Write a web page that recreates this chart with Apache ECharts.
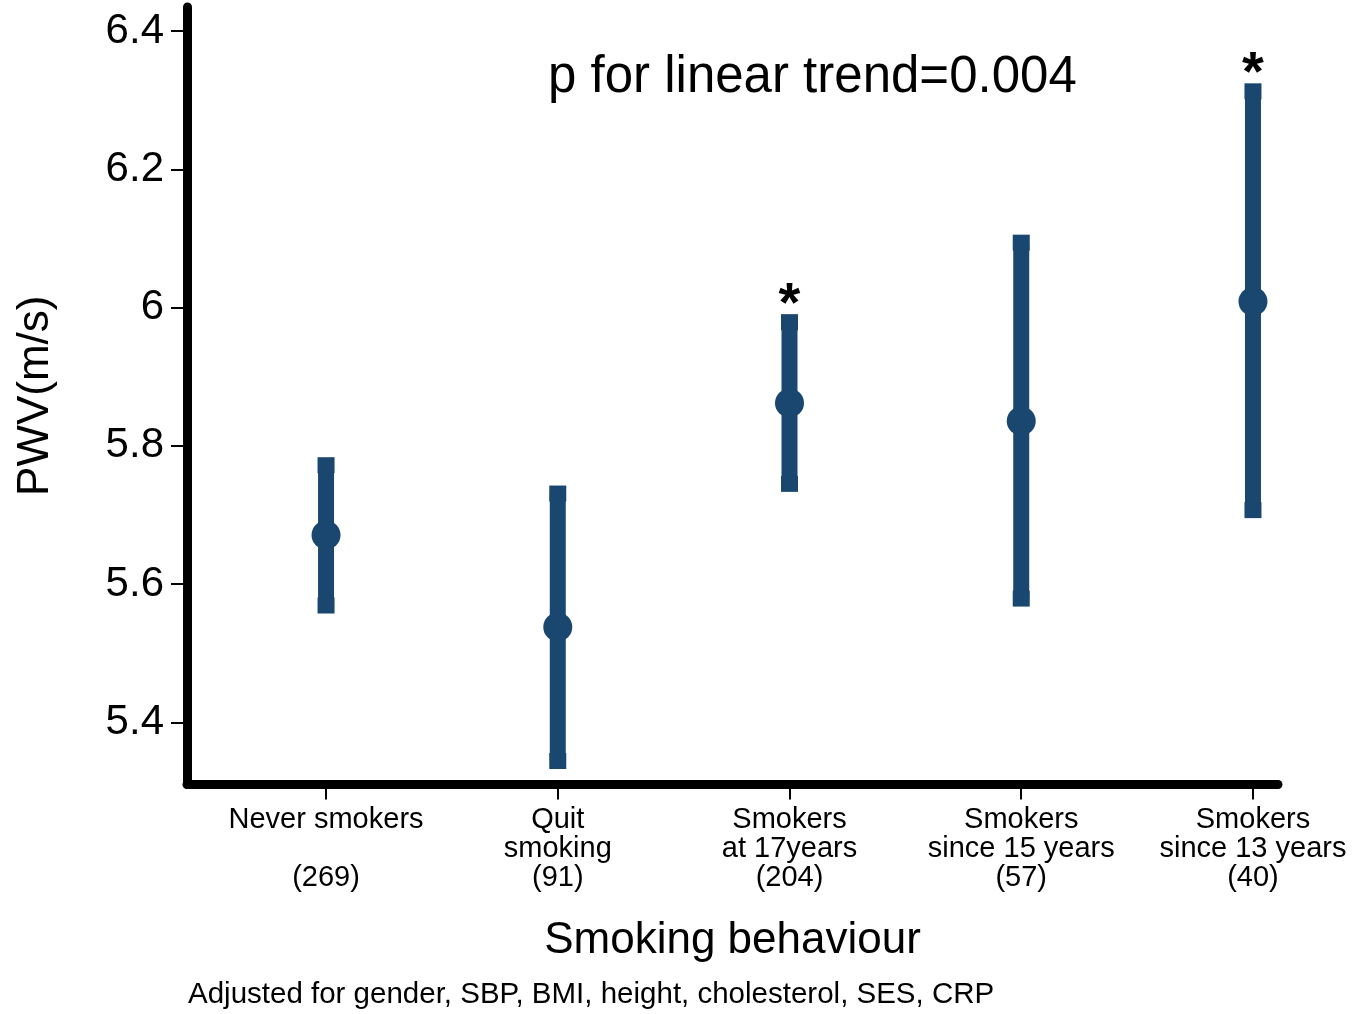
<!DOCTYPE html>
<html>
<head>
<meta charset="utf-8">
<script src="https://cdn.jsdelivr.net/npm/echarts@6/dist/echarts.min.js"></script>
<style>
  html, body { margin: 0; padding: 0; background: #fff; }
  #chart { width: 1356px; height: 1014px; }
</style>
</head>
<body>
<div id="chart"></div>
<script>
// ---- data ----
const categoryLabels = [
  'Never smokers\n\n(269)',
  'Quit\nsmoking\n(91)',
  'Smokers\nat 17years\n(204)',
  'Smokers\nsince 15 years\n(57)',
  'Smokers\nsince 13 years\n(40)'
];
const categoryPos = [1, 2, 3, 4, 5];
const meanPWV  = [5.671, 5.538, 5.862, 5.836, 6.009];
const lowerCI  = [5.569, 5.344, 5.745, 5.579, 5.707];
const upperCI  = [5.772, 5.731, 5.979, 6.094, 6.313];
const significant = [false, false, true, false, true];
const yTicks = [5.4, 5.6, 5.8, 6.0, 6.2, 6.4];

const FONT = "'Liberation Sans', Arial, Helvetica, sans-serif";
const NAVY = '#1a476f';

const chart = echarts.init(document.getElementById('chart'), null, { renderer: 'canvas' });

const barData = categoryPos.map((x, i) => [x, lowerCI[i], upperCI[i], significant[i] ? 1 : 0]);
const meanData = categoryPos.map((x, i) => [x, meanPWV[i]]);

const option = {
  backgroundColor: '#ffffff',
  animation: false,
  grid: { left: 187, top: 7, right: 78, bottom: 229.5, containLabel: false },
  xAxis: {
    type: 'value',
    min: 0.4,
    max: 5.108,
    name: 'Smoking behaviour',
    nameLocation: 'middle',
    nameGap: 134,
    nameTextStyle: { fontFamily: FONT, fontSize: 44, color: '#000' },
    axisLine: { show: true, onZero: false, lineStyle: { color: '#000', width: 9 } },
    axisTick: { show: true, length: 15, lineStyle: { color: '#000', width: 2 }, customValues: categoryPos },
    axisLabel: {
      customValues: categoryPos,
      margin: 21,
      fontFamily: FONT, fontSize: 29, lineHeight: 29, color: '#000', align: 'center',
      formatter: function (v) { return categoryLabels[Math.round(v) - 1] || ''; }
    },
    splitLine: { show: false }
  },
  yAxis: {
    type: 'value',
    min: 5.31,
    max: 6.435,
    name: 'PWV(m/s)',
    nameLocation: 'middle',
    nameRotate: 90,
    nameGap: 129,
    nameTextStyle: { fontFamily: FONT, fontSize: 44, color: '#000' },
    axisLine: { show: true, onZero: false, lineStyle: { color: '#000', width: 9 } },
    axisTick: { show: true, length: 16, lineStyle: { color: '#000', width: 2 }, customValues: yTicks },
    axisLabel: {
      customValues: yTicks,
      margin: 23,
      fontFamily: FONT, fontSize: 42, color: '#000',
      formatter: function (v) { return String(Math.round(v * 10) / 10); }
    },
    splitLine: { show: false }
  },
  graphic: [
    {
      type: 'text', left: 548, top: 77 - 25,
      style: { text: 'p for linear trend=0.004', fontFamily: FONT, fontSize: 51, fill: '#000' }
    },
    {
      type: 'text', left: 188, top: 994 - 14,
      style: { text: 'Adjusted for gender, SBP, BMI, height, cholesterol, SES, CRP', fontFamily: FONT, fontSize: 29.5, fill: '#000' }
    }
  ],
  series: [
    {
      type: 'custom',
      data: barData,
      encode: { x: 0, y: [1, 2] },
      z: 2,
      renderItem: function (params, api) {
        const x = api.value(0);
        const pLo = api.coord([x, api.value(1)]);
        const pHi = api.coord([x, api.value(2)]);
        const children = [
          { type: 'rect', shape: { x: pLo[0] - 8, y: pHi[1], width: 16, height: pLo[1] - pHi[1] }, style: { fill: NAVY } },
          { type: 'rect', shape: { x: pHi[0] - 8.5, y: pHi[1] - 8, width: 17, height: 16 }, style: { fill: NAVY } },
          { type: 'rect', shape: { x: pLo[0] - 8.5, y: pLo[1] - 8, width: 17, height: 16 }, style: { fill: NAVY } }
        ];
        if (api.value(3) === 1) {
          children.push({
            type: 'text',
            style: {
              text: '*', x: pHi[0], y: pHi[1] - 8 + 19,
              align: 'center', verticalAlign: 'bottom',
              fontFamily: FONT, fontSize: 56, fontWeight: 'bold', fill: '#000'
            }
          });
        }
        return { type: 'group', children: children };
      }
    },
    {
      type: 'scatter',
      data: meanData,
      symbol: 'circle',
      symbolSize: 29,
      itemStyle: { color: NAVY, opacity: 1 },
      z: 3
    }
  ]
};
chart.setOption(option);
</script>
</body>
</html>
